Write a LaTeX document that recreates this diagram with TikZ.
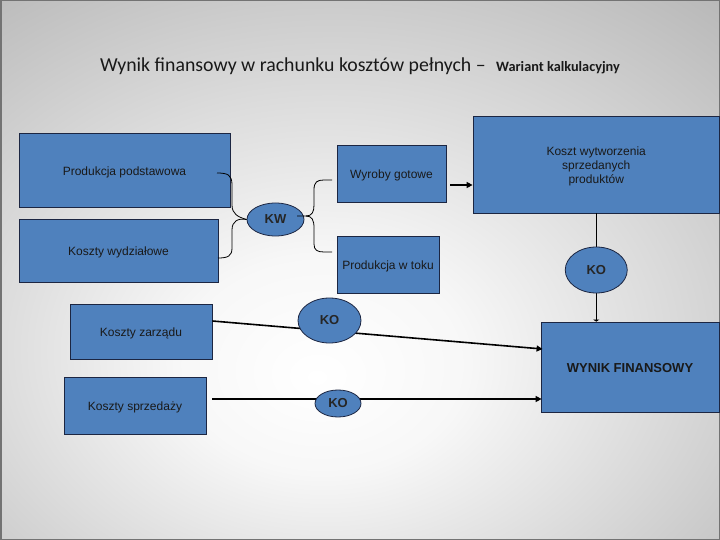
\documentclass[tikz,border=0pt]{standalone}
\usepackage{fontspec}
\setmainfont{Carlito}
\newfontfamily\arialf{Liberation Sans}
\usetikzlibrary{arrows.meta,shapes.geometric}
\definecolor{boxblue}{RGB}{79,129,189}
\definecolor{boxedge}{RGB}{28,38,66}
\pgfdeclareradialshading{bgshade}{\pgfpoint{-3bp}{-10bp}}{color(0bp)=(white); color(10bp)=(black!3); color(38bp)=(black!26); color(50bp)=(black!36); color(62bp)=(black!42); color(80bp)=(black!47)}
\newcommand{\lowtext}[1]{\raisebox{-2.5pt}[\height][\depth]{\begin{tabular}{@{}c@{}}#1\end{tabular}}}
\begin{document}
\begin{tikzpicture}[x=1pt,y=-1pt,
  box/.style={draw=boxedge, line width=0.8pt, fill=boxblue, inner sep=0pt, align=center, font=\arialf\fontsize{12}{14}\selectfont, text=black!90},
  oval/.style={ellipse, draw=boxedge, line width=0.8pt, fill=boxblue, inner sep=0pt, font=\arialf\bfseries\fontsize{13}{15}\selectfont, text=black!85},
  arr/.style={line width=1.6pt, -{Triangle[length=6pt,width=6pt]}},
  conn/.style={line width=0.8pt, black}
]
\useasboundingbox (0,0) rectangle (720,540);
\shade[shading=bgshade] (0,0) rectangle (720,540);
\draw[black!55, line width=1.5pt] (0.75,0.75) rectangle (719.25,539.25);

\node[anchor=base, inner sep=0pt, text=black!90] (title) at (360,72) {\fontsize{19.8}{22}\selectfont Wynik finansowy w rachunku kosztów pełnych –\hspace{6pt} {\bfseries\fontsize{14.3}{16}\selectfont Wariant kalkulacyjny}};

\node[box, minimum width=211pt, minimum height=74pt] (pp) at (124.5,170) {\lowtext{Produkcja podstawowa}};
\node[box, minimum width=199pt, minimum height=63pt] (kwyd) at (118.5,250.5) {\lowtext{Koszty wydziałowe}};
\node[box, minimum width=109pt, minimum height=57pt] (wg) at (391.5,173.5) {\lowtext{Wyroby gotowe}};
\node[box, minimum width=102pt, minimum height=57pt] (pwt) at (388,264.5) {\lowtext{Produkcja w toku}};
\node[box, minimum width=246.5pt, minimum height=97pt] (kwsp) at (596.25,164.5) {\lowtext{Koszt wytworzenia\\sprzedanych\\produktów}};
\node[box, minimum width=142pt, minimum height=55pt] (kz) at (141,331.5) {\lowtext{Koszty zarządu}};
\node[box, minimum width=142pt, minimum height=57pt] (ks) at (135,405.5) {\lowtext{Koszty sprzedaży}};
\node[box, minimum width=178pt, minimum height=90pt, font=\arialf\bfseries\fontsize{13}{15}\selectfont] (wf) at (630,367) {\lowtext{WYNIK FINANSOWY}};

% connectors
\draw[arr] ([xshift=4pt,yshift=-11.5pt]wg.east) -- ([yshift=-20.5pt]kwsp.west);
\draw[arr] ([yshift=10.5pt]kz.east) -- ([xshift=2pt,yshift=18pt]wf.west);
\draw[arr] ([xshift=6pt,yshift=6.5pt]ks.east) -- ([xshift=1pt,yshift=-32pt]wf.west);
\draw[conn, -{Triangle[length=2pt,width=6pt]}] (kwsp.south) -- (kwsp.south |- wf.north);

% ellipses
\node[oval, minimum width=57pt, minimum height=33pt] (kw) at (275.5,219.5) {KW};
\node[oval, minimum width=62pt, minimum height=46pt] (ko1) at (596.25,270) {KO};
\node[oval, minimum width=63pt, minimum height=45pt] (ko2) at (329.5,320.5) {KO};
\node[oval, minimum width=46pt, minimum height=27pt] (ko3) at (338,403.5) {KO};

% braces
\coordinate (lbtop) at (217,173);
\coordinate (lbbot) at (218,258);
\coordinate (rbin) at (297,216);
\coordinate (rbtop) at (332,180);
\coordinate (rbbot) at (332,252);
\draw[conn] (lbtop) .. controls (228,173) and (232,175) .. (232,185) -- (232,205)
  .. controls (232,214) and (238,217) .. (kw.west);
\draw[conn] (kw.west) .. controls (238,218) and (232,221) .. (232,230) -- (232,248)
  .. controls (232,256) and (228,258) .. (lbbot);
\draw[conn] (rbin) -- (306,216) .. controls (312,216) and (314,212) .. (314,205) -- (314,190)
  .. controls (314,182) and (317,180) .. (324,180) -- (rbtop);
\draw[conn] (306,216) .. controls (312,216) and (314,220) .. (314,228) -- (314,244)
  .. controls (314,250) and (317,252) .. (324,252) -- (rbbot);
\end{tikzpicture}
\end{document}
